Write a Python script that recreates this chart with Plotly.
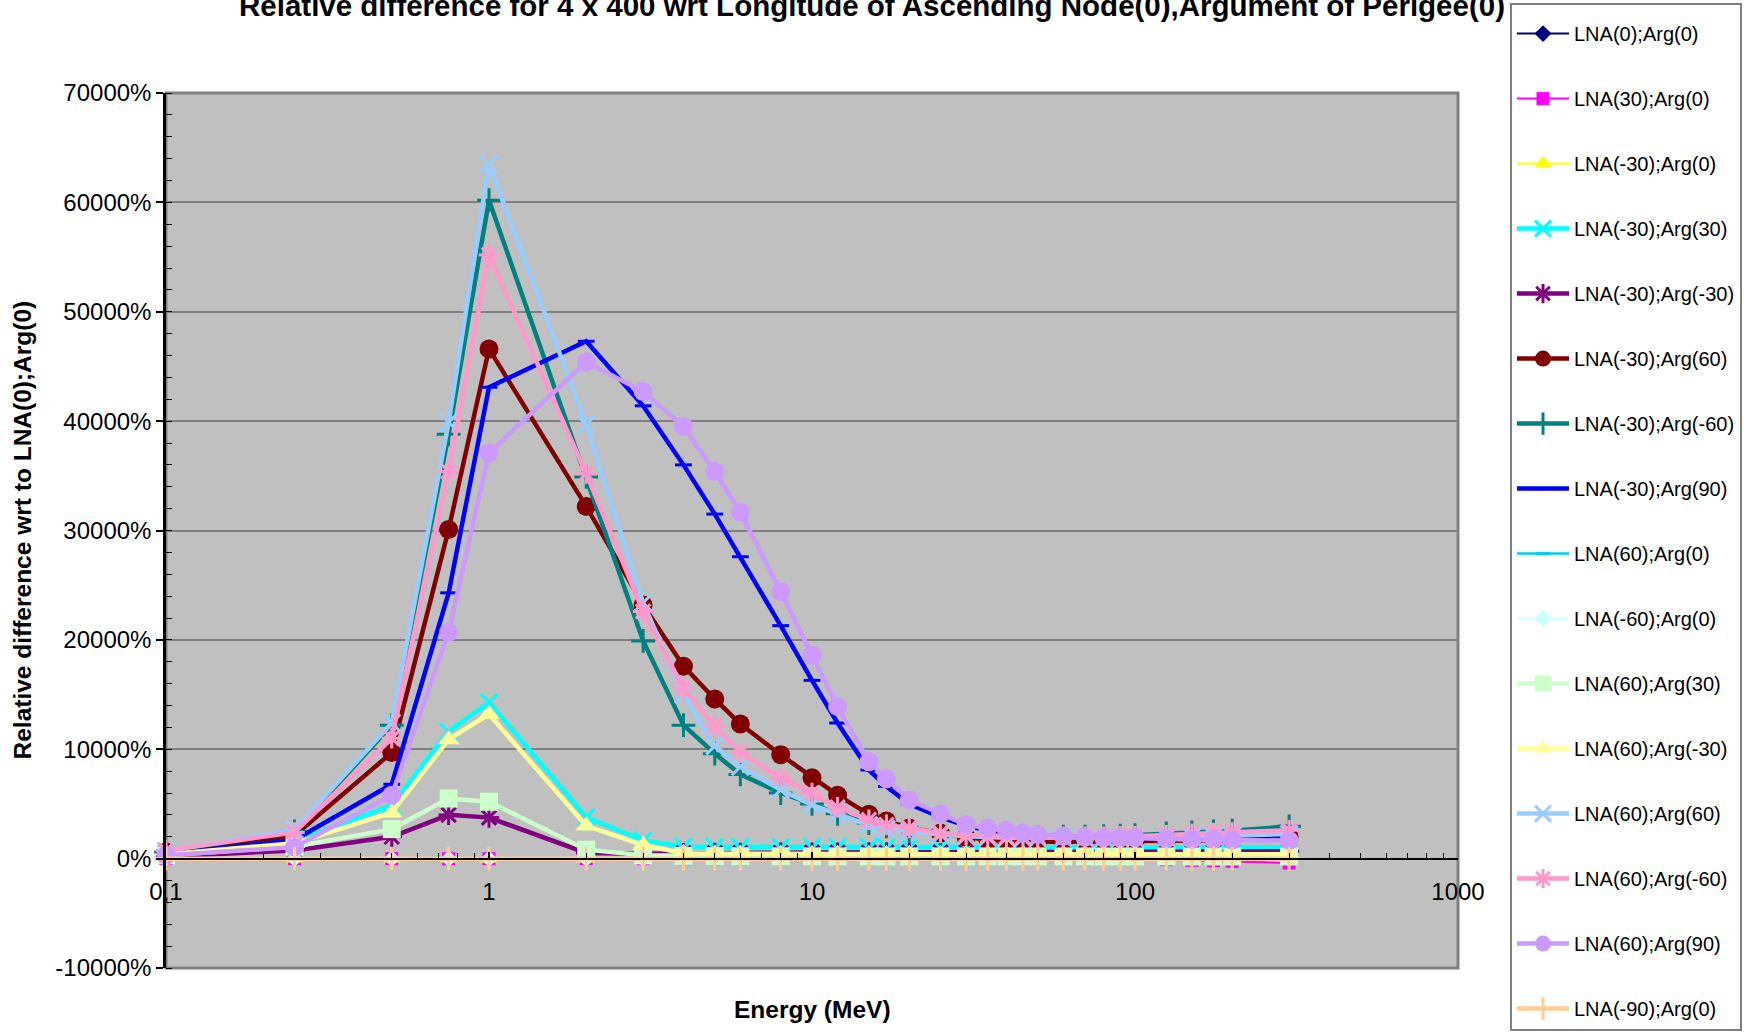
import plotly.graph_objects as go

energy = [0.1, 0.25, 0.5, 0.75, 1, 2, 3, 4, 5, 6, 8, 10, 12, 15, 17, 20, 25, 30, 35, 40,
          45, 50, 60, 70, 80, 90, 100, 125, 150, 175, 200, 300]

lna0_arg0 = [0, 0, 0, 0, 0, 0, 0, 0, 0, 0, 0, 0, 0, 0, 0, 0, 0, 0, 0, 0, 0, 0, 0, 0, 0, 0, 0, 0, 0, 0, 0, 0]
lna30_arg0 = [0, 0, 0, 0, 0, 0, 0, 0, 0, 0, 0, 0, 0, 0, 0, 0, 0, 0, 0, 0, 0, 0, 0, 0, 0, 0, 0, -100, -150, -200, -250, -400]
lnam30_arg0 = [0, 0, 0, 0, 0, 0, 0, 0, 0, 0, 0, 0, 0, 0, 0, 0, 0, 0, 0, 0, 0, 0, 0, 0, 0, 0, 0, 0, 0, 0, 0, -200]
lnam30_arg30 = [400, 1550, 4900, 11600, 14300, 3800, 1650, 1100, 1080, 1070, 1060, 1050, 1050, 1050, 1050, 1050,
                1050, 1050, 1050, 1050, 1050, 1050, 1050, 1050, 1050, 1050, 1050, 1050, 1050, 1050, 1050, 1050]
lnam30_argm30 = [200, 750, 2000, 4000, 3750, 520, 450, 500, 520, 530, 540, 550, 550, 560, 560, 570,
                 570, 580, 580, 590, 590, 600, 600, 610, 610, 620, 620, 630, 640, 650, 650, 680]
lnam30_arg60 = [600, 2100, 9700, 30100, 46600, 32200, 23200, 17600, 14600, 12300, 9500, 7400, 5800, 4050, 3450, 2800,
                2350, 1950, 1750, 1650, 1600, 1550, 1550, 1550, 1550, 1550, 1550, 1600, 1650, 1700, 1750, 2000]
lnam30_argm60 = [600, 2500, 12200, 38800, 60200, 34900, 19900, 12200, 9600, 7700, 6000, 5000, 4100, 3250, 2950, 2600,
                 2300, 2100, 2000, 1950, 1950, 1950, 2000, 2000, 2050, 2100, 2150, 2300, 2400, 2500, 2550, 2950]
lnam30_arg90 = [400, 1700, 6800, 24300, 43100, 47300, 41400, 36000, 31500, 27600, 21300, 16300, 12400, 8100, 6600, 5000,
                3800, 3000, 2600, 2400, 2250, 2150, 2050, 2000, 1950, 1950, 1950, 1900, 1900, 1900, 1900, 2000]
lna60_arg0 = [0, 0, 0, 0, 0, 0, 0, 0, 0, 0, 0, 0, 0, 0, 0, 0, 0, 0, 0, 0, 0, 0, 0, 0, 0, 0, 0, 0, 0, 0, 0, 0]
lnam60_arg0 = [0, 0, 0, 0, 0, 0, 0, 0, 0, 0, 0, 0, 0, 0, 0, 0, 0, 0, 0, 0, 0, 0, 0, 0, 0, 0, 0, 0, 0, 0, 0, 0]
lna60_arg30 = [300, 1100, 2700, 5500, 5200, 820, 300, 250, 230, 220, 210, 200, 200, 200, 200, 200,
               200, 200, 200, 200, 200, 200, 200, 200, 200, 200, 200, 200, 200, 200, 200, 200]
lna60_argm30 = [400, 1400, 4200, 10900, 13200, 3000, 1250, 500, 450, 430, 420, 410, 400, 400, 400, 400,
                400, 400, 400, 400, 400, 400, 400, 400, 400, 400, 400, 400, 400, 400, 400, 400]
lna60_arg60 = [700, 2650, 12400, 39900, 63500, 39700, 23400, 15000, 10300, 8400, 6300, 4900, 4100, 3050, 2700, 2450,
               2200, 2050, 1950, 1900, 1900, 1900, 1900, 1900, 1900, 1900, 1900, 1950, 2000, 2050, 2100, 2250]
lna60_argm60 = [750, 2400, 11000, 35400, 55200, 35200, 22600, 15600, 12100, 9700, 7400, 6000, 4700, 3550, 3100, 2800,
                2350, 2150, 2050, 2000, 2000, 2000, 2000, 2000, 2000, 2050, 2050, 2150, 2250, 2350, 2400, 2600]
lna60_arg90 = [300, 1050, 5800, 20700, 37100, 45400, 42700, 39500, 35400, 31700, 24400, 18600, 13900, 8850, 7300, 5350,
               4100, 3100, 2800, 2600, 2350, 2200, 2050, 1950, 1900, 1900, 1900, 1800, 1750, 1750, 1700, 1650]
lnam90_arg0 = [0, 0, 0, 0, 0, 0, 0, 0, 0, 0, 0, 0, 0, 0, 0, 0, 0, 0, 0, 0, 0, 0, 0, 0, 0, 0, 0, 0, 0, 0, 0, 0]

series_names = ["LNA(0);Arg(0)", "LNA(30);Arg(0)", "LNA(-30);Arg(0)", "LNA(-30);Arg(30)",
                "LNA(-30);Arg(-30)", "LNA(-30);Arg(60)", "LNA(-30);Arg(-60)", "LNA(-30);Arg(90)",
                "LNA(60);Arg(0)", "LNA(-60);Arg(0)", "LNA(60);Arg(30)", "LNA(60);Arg(-30)",
                "LNA(60);Arg(60)", "LNA(60);Arg(-60)", "LNA(60);Arg(90)", "LNA(-90);Arg(0)"]
series_values = [lna0_arg0, lna30_arg0, lnam30_arg0, lnam30_arg30, lnam30_argm30, lnam30_arg60,
                 lnam30_argm60, lnam30_arg90, lna60_arg0, lnam60_arg0, lna60_arg30, lna60_argm30,
                 lna60_arg60, lna60_argm60, lna60_arg90, lnam90_arg0]

y_tickvals = [-10000, 0, 10000, 20000, 30000, 40000, 50000, 60000, 70000]
y_ticktext = ["-10000%", "0%", "10000%", "20000%", "30000%", "40000%", "50000%", "60000%", "70000%"]
x_tickvals = [0.1, 1, 10, 100, 1000]
x_ticktext = ["0,1", "1", "10", "100", "1000"]

colors = ["#000080", "#FF00FF", "#FFFF00", "#00FFFF", "#800080", "#800000", "#008080", "#0000FF",
          "#00CCFF", "#CCFFFF", "#CCFFCC", "#FFFF99", "#99CCFF", "#FF99CC", "#CC99FF", "#FFCC99"]
symbols = ["diamond", "square", "triangle-up", "x-thin", "asterisk", "circle", "cross-thin", "line-ew",
           "line-ew", "diamond", "square", "triangle-up", "x-thin", "asterisk", "circle", "cross-thin"]
widths = [2, 2, 2, 4.5, 4.5, 4.5, 4.5, 4.5, 2.5, 2, 4.5, 4.5, 4.5, 4.5, 4.5, 4.5]
msizes = [13, 13, 15, 17, 17, 19, 17, 12, 10, 13, 18, 19, 17, 17, 19, 17]

FONT = "Liberation Sans, Arial, sans-serif"
W, H = 1756, 1034
L, R, T, B = 166, 1458, 93, 968
pw, ph = R - L, B - T

fig = go.Figure()
for name, vals, col, sym, w, ms in zip(series_names, series_values, colors, symbols, widths, msizes):
    line_sym = sym in ("x-thin", "asterisk", "cross-thin", "line-ew")
    fig.add_trace(go.Scatter(
        x=energy, y=vals, name=name, mode="lines+markers", legendgroup=name,
        line=dict(color=col, width=w),
        marker=dict(symbol=sym, size=ms, color=col,
                    line=dict(color=col, width=(3 if line_sym else 0))),
        cliponaxis=False,
    ))

fig.update_layout(
    width=W, height=H,
    margin=dict(l=L, r=W - R, t=T, b=H - B, autoexpand=False),
    paper_bgcolor="white", plot_bgcolor="#C0C0C0",
    font=dict(family=FONT, size=24, color="black"),
    showlegend=True,
    legend=dict(
        x=(1510 - L) / pw, y=(B - 3) / ph, xanchor="left", yanchor="top",
        bgcolor="white", bordercolor="#808080", borderwidth=2,
        font=dict(family=FONT, size=20, color="black"),
        title=dict(text=" ", font=dict(size=7)),
        tracegroupgap=36, itemwidth=52, traceorder="grouped", maxheight=2000,
    ),
    xaxis=dict(
        type="log", range=[-1, 3], anchor="free", position=1 / 8,
        showgrid=False, zeroline=False,
        showline=True, linecolor="black", linewidth=2,
        tickvals=x_tickvals, ticktext=x_ticktext,
        ticks="inside", ticklen=6, tickwidth=1.5, tickcolor="black",
        ticklabelstandoff=12,
        minor=dict(ticks="inside", ticklen=5, tickcolor="black", tickwidth=1.2, dtick="D1", showgrid=False),
        tickfont=dict(size=24),
    ),
    yaxis=dict(
        range=[-10000, 70000], tickvals=y_tickvals, ticktext=y_ticktext,
        showgrid=True, gridcolor="#808080", gridwidth=1.5, zeroline=False,
        showline=True, linecolor="black", linewidth=2.5,
        ticks="outside", ticklen=7, tickwidth=1.5, tickcolor="black",
        minor=dict(ticks="inside", ticklen=6, tickcolor="black", tickwidth=1.2, dtick=2000, showgrid=False),
        tickfont=dict(size=24),
    ),
    shapes=[dict(type="rect", xref="paper", yref="paper", x0=0, x1=1, y0=0, y1=1,
                 line=dict(color="#808080", width=3), layer="below")],
    annotations=[
        dict(text="<b>Relative difference for 4 x 400 wrt Longitude of Ascending Node(0),Argument of Perigee(0)</b>",
             xref="paper", yref="paper", x=(872 - L) / pw, y=(B - 5) / ph,
             xanchor="center", yanchor="middle", showarrow=False,
             font=dict(family=FONT, size=29.5, color="black")),
        dict(text="<b>Energy (MeV)</b>", xref="paper", yref="paper", x=0.5, y=(B - 1009) / ph,
             xanchor="center", yanchor="middle", showarrow=False,
             font=dict(family=FONT, size=24.5, color="black")),
        dict(text="<b>Relative difference wrt to LNA(0);Arg(0)</b>", xref="paper", yref="paper",
             x=(22 - L) / pw, y=0.5, xanchor="center", yanchor="middle", textangle=-90, showarrow=False,
             font=dict(family=FONT, size=24.5, color="black")),
    ],
)

fig.write_html("out.html")
